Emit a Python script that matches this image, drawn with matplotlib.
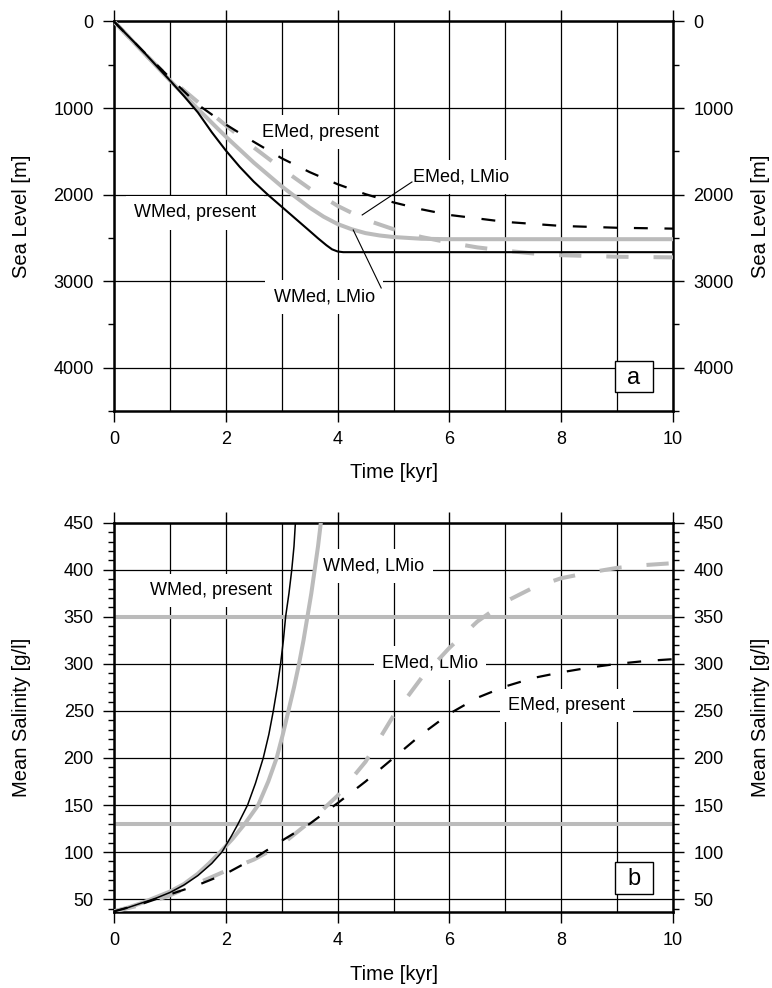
import matplotlib
matplotlib.use('Agg')
import matplotlib.pyplot as plt
from matplotlib.patches import Rectangle
from matplotlib.ticker import MultipleLocator

plt.rcParams['font.family'] = ['Liberation Sans', 'DejaVu Sans']
plt.rcParams['lines.scale_dashes'] = False

# --- panel a: sea level drawdown [m] vs time [kyr] ---
wmed_present_t = [0, 0.5, 1, 1.25, 1.5, 1.75, 2, 2.25, 2.5, 2.75, 3, 3.25, 3.5, 3.65, 3.8,
                  3.9, 4.0, 4.1, 10]
wmed_present_z = [0, 330, 680, 860, 1050, 1280, 1490, 1680, 1850, 2000, 2140, 2280, 2420,
                  2505, 2585, 2632, 2657, 2665, 2665]

wmed_lmio_t = [0, 0.5, 1, 1.5, 2, 2.5, 3, 3.5, 3.75, 4, 4.25, 4.5, 4.75, 5, 5.5, 6, 10]
wmed_lmio_z = [0, 340, 680, 1010, 1330, 1630, 1905, 2150, 2255, 2340, 2400, 2445, 2472,
               2490, 2510, 2515, 2515]

emed_present_t = [0, 0.5, 1, 1.5, 2, 2.5, 3, 3.5, 4, 4.5, 5, 5.5, 6, 7, 8, 9, 10]
emed_present_z = [0, 330, 650, 960, 1190, 1390, 1580, 1740, 1880, 1995, 2090, 2170, 2235,
                  2315, 2362, 2383, 2393]

emed_lmio_t = [0, 0.5, 1, 1.5, 2, 2.5, 3, 3.5, 4, 4.5, 5, 5.5, 6, 6.5, 7, 7.5, 8, 9, 10]
emed_lmio_z = [0, 340, 660, 930, 1200, 1455, 1700, 1930, 2130, 2290, 2400, 2490, 2555,
               2610, 2648, 2680, 2700, 2718, 2725]

# --- panel b: mean salinity [g/l] vs time [kyr] ---
wmed_present_st = [0, 0.25, 0.5, 0.75, 1, 1.25, 1.5, 1.75, 1.93, 2.1, 2.22, 2.39, 2.53, 2.67,
                   2.77, 2.85, 2.92, 2.98, 3.03, 3.07, 3.13, 3.18, 3.22, 3.25]
wmed_present_s = [37, 41, 46, 51, 57, 65, 75, 88, 100, 117, 130, 150, 173, 200,
                  225, 250, 275, 300, 325, 350, 375, 400, 425, 455]

wmed_lmio_st = [0, 0.25, 0.5, 0.75, 1, 1.25, 1.5, 1.7, 1.9, 2.12, 2.34, 2.58, 2.76, 2.91,
                3.02, 3.12, 3.22, 3.31, 3.39, 3.46, 3.53, 3.59, 3.65, 3.71]
wmed_lmio_s = [37, 41, 46, 52, 58, 66, 77, 88, 100, 114, 130, 150, 175, 200,
               225, 250, 275, 300, 325, 350, 375, 400, 425, 455]

emed_st = [0, 0.5, 1, 1.5, 2, 2.5, 3, 3.5, 4, 4.5, 5, 5.5, 6, 6.5, 7, 7.5, 8, 8.5, 9, 9.5, 10]
emed_present_s = [37, 45, 55, 65, 77, 93, 112, 130, 152, 175, 200, 225, 247, 264, 276, 285,
                  291, 296, 300, 303, 305]
emed_lmio_s = [37, 44, 54, 67, 80, 92, 108, 132, 160, 196, 245, 285, 317, 345, 366, 381,
               391, 397, 402, 405, 407]

# gypsum / halite saturation levels
sat_levels = [130, 350]

GRAY = '#bbbbbb'
LBL = dict(fontsize=13, ha='center', va='center', zorder=2,
           bbox=dict(boxstyle='square,pad=0.45', fc='white', ec='none'))

fig = plt.figure(figsize=(7.72, 9.88), dpi=100)
ax1 = fig.add_axes([114 / 772, 1 - 411 / 988, 559 / 772, 389.5 / 988])
ax2 = fig.add_axes([114 / 772, 1 - 912.3 / 988, 559 / 772, 389.6 / 988])


def style_axes(ax, ymajor, yminor):
    ax.set_xlim(0, 10)
    ax.xaxis.set_major_locator(MultipleLocator(2))
    ax.xaxis.set_minor_locator(MultipleLocator(1))
    ax.yaxis.set_major_locator(MultipleLocator(ymajor))
    ax.yaxis.set_minor_locator(MultipleLocator(yminor))
    ax.set_axisbelow(True)
    ax.grid(True, which='major', axis='both', color='k', lw=0.9)
    ax.grid(True, which='minor', axis='x', color='k', lw=0.9)
    ax.tick_params(which='major', direction='out', length=8, width=1, labelsize=13,
                   top=True, right=True, labelright=True, pad=6.5)
    ax.tick_params(which='minor', axis='y', direction='out', length=4, width=1,
                   left=True, right=True)
    ax.tick_params(which='minor', axis='x', length=0)
    for s in ax.spines.values():
        s.set_linewidth(1.8)
    ax.set_xlabel('Time [kyr]', fontsize=14.5, labelpad=11)


def panel_box(ax, letter):
    ax.add_patch(Rectangle((0.896, 0.048), 0.068, 0.080, transform=ax.transAxes,
                           fc='white', ec='k', lw=1, zorder=4))
    ax.text(0.930, 0.085, letter, transform=ax.transAxes, fontsize=17,
            ha='center', va='center', zorder=5)


# panel a
style_axes(ax1, 1000, 500)
ax1.set_ylim(4500, 0)
ax1.plot(emed_lmio_t, emed_lmio_z, color=GRAY, lw=2.9, dashes=(16, 18), zorder=3)
ax1.plot(wmed_lmio_t, wmed_lmio_z, color=GRAY, lw=2.9, zorder=3)
ax1.plot(emed_present_t, emed_present_z, color='k', lw=1.6, dashes=(10, 12), zorder=3)
ax1.plot(wmed_present_t, wmed_present_z, color='k', lw=1.5, zorder=3)
ax1.text(3.69, 1277, 'EMed, present', **LBL)
ax1.text(6.21, 1796, 'EMed, LMio', **LBL)
ax1.text(1.45, 2212, 'WMed, present', **LBL)
ax1.text(3.76, 3183, 'WMed, LMio', **LBL)
ax1.plot([5.33, 4.44], [1854, 2235], color='k', lw=0.8, zorder=3)
ax1.plot([4.28, 4.78], [2409, 3079], color='k', lw=0.8, zorder=3)
panel_box(ax1, 'a')

# panel b
style_axes(ax2, 50, 10)
ax2.set_ylim(36, 450)
for lev in sat_levels:
    ax2.axhline(lev, color=GRAY, lw=2.9, zorder=2.5)
ax2.plot(emed_st, emed_lmio_s, color=GRAY, lw=2.9, dashes=(16, 18), zorder=3)
ax2.plot(wmed_lmio_st, wmed_lmio_s, color=GRAY, lw=2.9, zorder=3)
ax2.plot(emed_st, emed_present_s, color='k', lw=1.6, dashes=(10, 12), zorder=3)
ax2.plot(wmed_present_st, wmed_present_s, color='k', lw=1.1, zorder=3)
ax2.text(1.74, 378, 'WMed, present', **LBL)
ax2.text(4.65, 404, 'WMed, LMio', **LBL)
ax2.text(5.65, 301, 'EMed, LMio', **LBL)
ax2.text(8.10, 256, 'EMed, present', **LBL)
panel_box(ax2, 'b')

# y labels on both sides
for yc, txt in [(1 - 216.25 / 988, 'Sea Level [m]'), (1 - 717.5 / 988, 'Mean Salinity [g/l]')]:
    fig.text(22 / 772, yc, txt, rotation=90, fontsize=14.5, ha='center', va='center')
    fig.text(760 / 772, yc, txt, rotation=90, fontsize=14.5, ha='center', va='center')

fig.savefig('out.png', dpi=100)
